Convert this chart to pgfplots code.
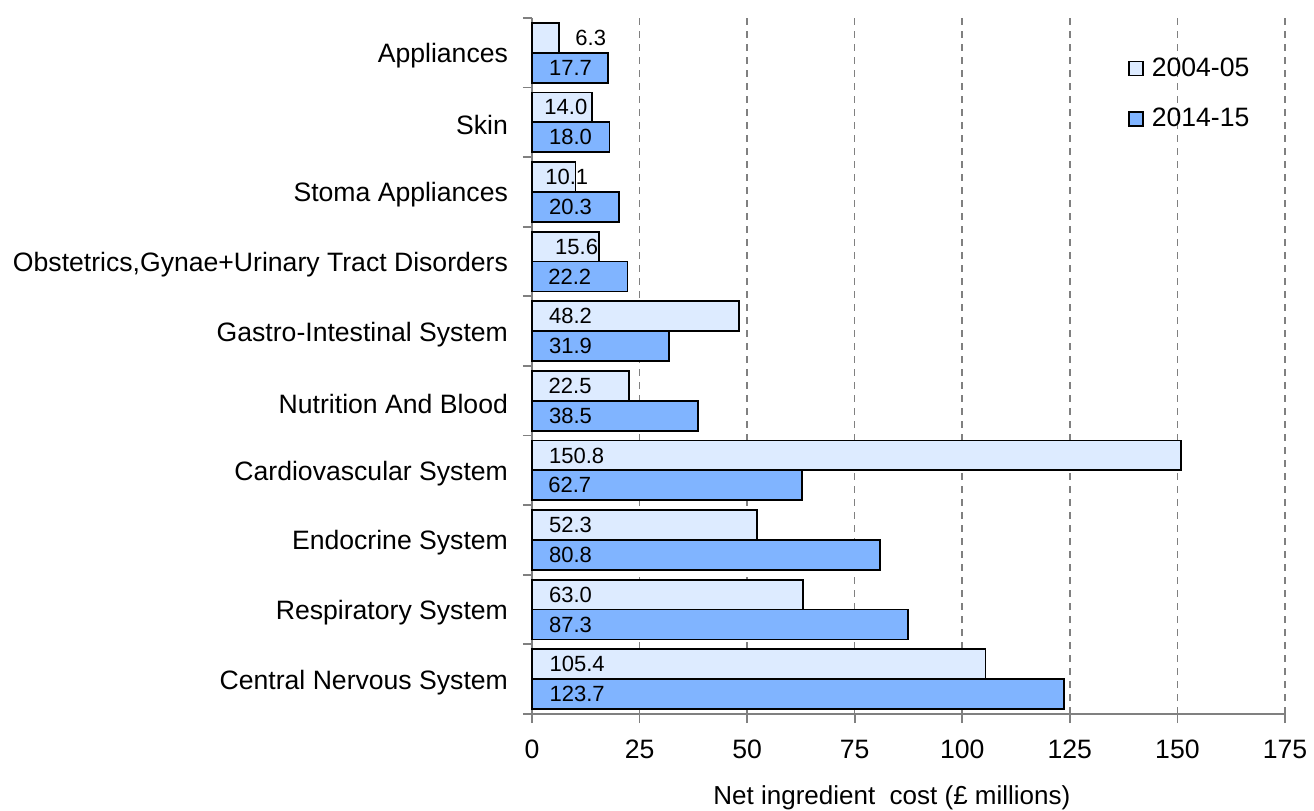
\documentclass[border=0pt]{standalone}
\usepackage{pgfplots}
\pgfplotsset{compat=1.18}
\usepackage{pgfplotstable}
\usepackage{fontspec}
\setmainfont{Liberation Sans}
\definecolor{lightbar}{RGB}{221,235,255}
\definecolor{darkbar}{RGB}{128,180,255}
\definecolor{axisgray}{RGB}{128,128,128}

\pgfplotstableread{
idx v04 v14 lx04 lx14
0 105.4 123.7 4.0 4.0
1 63.0 87.3 3.9 3.9
2 52.3 80.8 3.9 3.9
3 150.8 62.7 3.9 3.7
4 22.5 38.5 3.8 3.9
5 48.2 31.9 3.9 3.9
6 15.6 22.2 5.3 3.7
7 10.1 20.3 3.0 3.9
8 14.0 18.0 2.8 3.9
9 6.3 17.7 10.0 3.9
}\data

\begin{document}
\begin{tikzpicture}
\path[use as bounding box] (-266pt,-48pt) rectangle (391pt,357pt);
\begin{axis}[
  at={(0pt,0pt)}, anchor=south west,
  x=2.1514pt, y=34.8pt,
  xmin=0, xmax=175, ymin=-0.5, ymax=9.5,
  axis x line*=bottom, axis y line*=left,
  axis line style={axisgray, line width=0.9pt},
  xtick={0,25,50,75,100,125,150,175},
  ytick={-0.5,0.5,1.5,2.5,3.5,4.5,5.5,6.5,7.5,8.5,9.5},
  yticklabels={},
  extra y ticks={0,1,2,3,4,5,6,7,8,9},
  extra y tick labels={Central Nervous System, Respiratory System, Endocrine System, Cardiovascular System, Nutrition And Blood, Gastro-Intestinal System, {Obstetrics,Gynae+Urinary Tract Disorders}, Stoma Appliances, Skin, Appliances},
  extra y tick style={major tick length=0pt, yticklabel style={anchor=east, xshift=-8.5pt, yshift=-1.5pt}},
  tick align=outside,
  major tick length=4.5pt,
  tick style={axisgray, line width=0.9pt},
  xmajorgrids,
  grid style={axisgray, line width=0.8pt, dash pattern=on 3.5pt off 3pt},
  ticklabel style={font=\fontsize{13.3}{15}\selectfont},
  xticklabel style={anchor=north, yshift=-5pt},
  /pgf/number format/assume math mode=true,
  xlabel={Net ingredient\ \ cost (£ millions)},
  xlabel style={at={(0.478,0)}, anchor=center, yshift=-42pt, font=\fontsize{13}{15}\selectfont},
  legend style={at={(0.791,0.891)}, anchor=west, draw=none, fill=none, font=\fontsize{13.3}{15}\selectfont, row sep=10.5pt, column sep=2pt, inner sep=0pt},
  legend cell align=left,
  clip=false,
]
\addplot[xbar, bar width=0.43, bar shift=0.215, fill=lightbar, draw=black, line width=0.9pt,
  legend image code/.code={\draw[fill=lightbar, draw=black, line width=0.9pt] (0pt,-3.5pt) rectangle (7pt,3.5pt);}]
  table[x=v04, y=idx]{\data};
\addlegendentry{2004-05}
\addplot[xbar, bar width=0.43, bar shift=-0.215, fill=darkbar, draw=black, line width=0.9pt,
  legend image code/.code={\draw[fill=darkbar, draw=black, line width=0.9pt] (0pt,-3.5pt) rectangle (7pt,3.5pt);}]
  table[x=v14, y=idx]{\data};
\addlegendentry{2014-15}
\addplot[draw=none, mark=none, forget plot, point meta=explicit,
  nodes near coords={\pgfmathprintnumber[fixed,fixed zerofill,precision=1]{\pgfplotspointmeta}},
  nodes near coords style={anchor=west, inner sep=0pt, font=\fontsize{11}{13}\selectfont, text=black}]
  table[x=lx04, y expr=\thisrow{idx}+0.215, meta=v04]{\data};
\addplot[draw=none, mark=none, forget plot, point meta=explicit,
  nodes near coords={\pgfmathprintnumber[fixed,fixed zerofill,precision=1]{\pgfplotspointmeta}},
  nodes near coords style={anchor=west, inner sep=0pt, font=\fontsize{11}{13}\selectfont, text=black}]
  table[x=lx14, y expr=\thisrow{idx}-0.215, meta=v14]{\data};
\end{axis}
\end{tikzpicture}
\end{document}
